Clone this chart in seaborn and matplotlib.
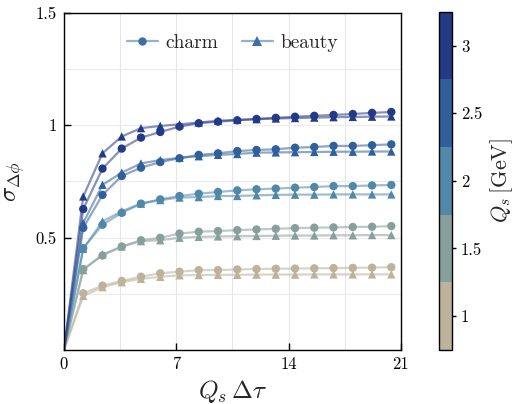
import numpy as np
import pandas as pd
import matplotlib
matplotlib.use("Agg")
import matplotlib.pyplot as plt
import matplotlib.colors as mcolors
import seaborn as sns

# Time axis (Q_s * Delta tau)
tau = [0.0, 1.2, 2.4, 3.6, 4.8, 6.0, 7.2, 8.4, 9.6, 10.8, 12.0, 13.2, 14.4, 15.6, 16.8, 18.0, 19.2, 20.4]

# Saturation scales (GeV)
qs_values = [1.0, 1.5, 2.0, 2.5, 3.0]

# sigma_{Delta phi} for charm and beauty, one list per Q_s
charm_10 = [0, 0.252, 0.286, 0.307, 0.326, 0.341, 0.348, 0.355, 0.355, 0.358, 0.360, 0.361, 0.362, 0.363, 0.364, 0.365, 0.366, 0.368]
beauty_10 = [0, 0.240, 0.279, 0.301, 0.316, 0.325, 0.332, 0.333, 0.334, 0.334, 0.335, 0.335, 0.335, 0.336, 0.336, 0.336, 0.336, 0.336]
charm_15 = [0, 0.360, 0.420, 0.460, 0.488, 0.499, 0.518, 0.526, 0.529, 0.533, 0.536, 0.539, 0.542, 0.544, 0.545, 0.547, 0.548, 0.551]
beauty_15 = [0, 0.355, 0.425, 0.460, 0.484, 0.488, 0.499, 0.503, 0.505, 0.506, 0.507, 0.508, 0.509, 0.509, 0.510, 0.510, 0.511, 0.511]
charm_20 = [0, 0.453, 0.557, 0.610, 0.651, 0.670, 0.685, 0.695, 0.703, 0.710, 0.715, 0.718, 0.722, 0.725, 0.729, 0.729, 0.732, 0.734]
beauty_20 = [0, 0.450, 0.572, 0.617, 0.651, 0.667, 0.678, 0.680, 0.685, 0.685, 0.688, 0.690, 0.691, 0.691, 0.692, 0.692, 0.692, 0.692]
charm_25 = [0, 0.543, 0.690, 0.774, 0.811, 0.836, 0.853, 0.868, 0.875, 0.885, 0.890, 0.893, 0.900, 0.903, 0.908, 0.908, 0.911, 0.915]
beauty_25 = [0, 0.565, 0.735, 0.789, 0.830, 0.845, 0.855, 0.862, 0.868, 0.872, 0.878, 0.879, 0.880, 0.881, 0.882, 0.882, 0.883, 0.883]
charm_30 = [0, 0.627, 0.807, 0.896, 0.945, 0.970, 0.994, 1.009, 1.016, 1.022, 1.028, 1.033, 1.038, 1.042, 1.046, 1.050, 1.055, 1.059]
beauty_30 = [0, 0.683, 0.875, 0.950, 0.987, 0.997, 1.004, 1.012, 1.020, 1.024, 1.027, 1.030, 1.032, 1.034, 1.036, 1.037, 1.038, 1.039]

charm = [charm_10, charm_15, charm_20, charm_25, charm_30]
beauty = [beauty_10, beauty_15, beauty_20, beauty_25, beauty_30]

qs_colors = ["#bdb29b", "#87a09c", "#4f88a9", "#2f609b", "#233a86"]

x_ticks = [0, 7, 14, 21]
y_ticks = [0.5, 1.0, 1.5]
y_tick_labels = ["0.5", "1", "1.5"]
cbar_ticks = [1, 1.5, 2, 2.5, 3]
cbar_tick_labels = ["1", "1.5", "2", "2.5", "3"]

rows = []
for qs, c_vals, b_vals in zip(qs_values, charm, beauty):
    for t, c, b in zip(tau, c_vals, b_vals):
        rows.append({"tau": t, "sigma": c, "Qs": qs, "flavor": "charm"})
        rows.append({"tau": t, "sigma": b, "Qs": qs, "flavor": "beauty"})
df = pd.DataFrame(rows)

sns.set_theme(style="white")
plt.rcParams.update({
    "font.family": "serif",
    "font.serif": ["cmr10", "DejaVu Serif"],
    "mathtext.fontset": "cm",
    "axes.formatter.use_mathtext": True,
    "axes.unicode_minus": False,
})

fig = plt.figure(figsize=(5.16, 4.04), dpi=100)
ax = fig.add_axes([0.124, 0.134, 0.653, 0.834])
cax = fig.add_axes([0.851, 0.134, 0.025, 0.837])

palette = {qs: col for qs, col in zip(qs_values, qs_colors)}

# light grid every half major step
for gx in np.arange(3.5, 21, 3.5):
    ax.axvline(gx, color="#e6e6e6", lw=0.8, zorder=0)
for gy in np.arange(0.25, 1.5, 0.25):
    ax.axhline(gy, color="#ececec", lw=0.8, zorder=0)

for flavor, mk in [("charm", "o"), ("beauty", "^")]:
    sub = df[df["flavor"] == flavor]
    sns.lineplot(data=sub, x="tau", y="sigma", hue="Qs", palette=palette,
                 units="Qs", estimator=None, lw=1.6, alpha=0.55,
                 legend=False, ax=ax, zorder=2)
    sns.scatterplot(data=sub[sub["tau"] > 0], x="tau", y="sigma", hue="Qs",
                    palette=palette, marker=mk, s=36, linewidth=0,
                    legend=False, ax=ax, zorder=3)

# legend entries
leg_col = "#3d6fa3"
h1 = plt.Line2D([], [], color=mcolors.to_rgba(leg_col, 0.55), marker="o", ms=6,
                lw=1.6, markerfacecolor=leg_col, markeredgewidth=0)
h2 = plt.Line2D([], [], color=mcolors.to_rgba(leg_col, 0.55), marker="^", ms=6.5,
                lw=1.6, markerfacecolor=leg_col, markeredgewidth=0)
ax.legend([h1, h2], ["charm", "beauty"], loc="upper center",
          bbox_to_anchor=(0.5, 0.99), ncol=2, frameon=False,
          fontsize=14, handlelength=1.6, handletextpad=0.4,
          columnspacing=1.2)

ax.set_xlim(0, 21)
ax.set_ylim(0, 1.5)
ax.set_xticks(x_ticks)
ax.set_xticklabels([str(v) for v in x_ticks])
ax.set_yticks(y_ticks)
ax.set_yticklabels(y_tick_labels)
ax.tick_params(direction="in", length=5, width=1, labelsize=12, colors="black",
               bottom=True, left=True, top=False, right=False, pad=5)
for sp in ax.spines.values():
    sp.set_color("black")
    sp.set_linewidth(1.0)
ax.set_xlabel(r"$Q_s\,\Delta\tau$", fontsize=18, labelpad=4)
ax.set_ylabel(r"$\sigma_{\Delta\phi}$", fontsize=18, labelpad=6)

# discrete colour bar for Q_s: five equal bands centred on the Q_s values
cmap = mcolors.ListedColormap(qs_colors)
norm = mcolors.Normalize(vmin=0.75, vmax=3.25)
cb = fig.colorbar(plt.cm.ScalarMappable(norm=norm, cmap=cmap), cax=cax)
cb.set_ticks(cbar_ticks, labels=cbar_tick_labels)
cb.minorticks_off()
cb.ax.tick_params(which="major", labelsize=12, direction="out", length=3,
                  width=1, colors="black")
cb.outline.set_linewidth(1.0)
cb.outline.set_edgecolor("black")
cb.set_label(r"$Q_s\,[\mathrm{GeV}]$", fontsize=16, labelpad=4)

fig.savefig("out.png", dpi=100)
